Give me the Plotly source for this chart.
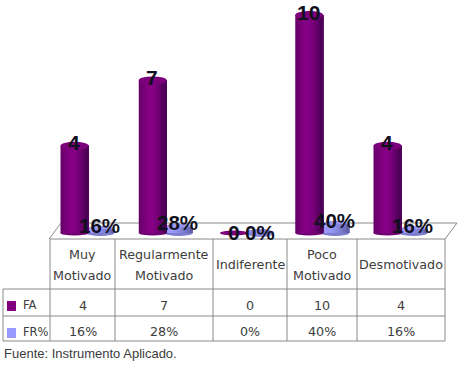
import plotly.graph_objects as go

categories = [["Muy", "Motivado"], ["Regularmente", "Motivado"], ["Indiferente"], ["Poco", "Motivado"], ["Desmotivado"]]
fa_values = [4, 7, 0, 10, 4]
fr_values = [16, 28, 0, 40, 16]
fa_labels = ["4", "7", "0", "10", "4"]
fr_labels = ["16%", "28%", "0%", "40%", "16%"]

W, H = 460, 366
STEP, UNIT, X0, Y0 = 78.25, 21.8, 74.5, 233.0
FA_SHADES = ["#6a006c", "#750076", "#7f007f", "#860086", "#840084", "#7a007b", "#6c0070", "#5a0062", "#4a0054"]
FR_SHADES = ["#8f8fee", "#9999ff", "#9999fb", "#9494f2", "#8c8ce6", "#8383d8", "#7878ca", "#6d6dba", "#6262aa"]
BAR_W = 28 / STEP
FR_OFF = 26 / STEP
fr_units = [v / 100 for v in fr_values]
positions = list(range(len(categories)))

fig = go.Figure()
shapes, ann = [], []


def px(x):
    return x / W


def py(y):
    return 1 - y / H


def line(x0, y0, x1, y1):
    shapes.append(dict(type="line", xref="paper", yref="paper", x0=px(x0), y0=py(y0), x1=px(x1), y1=py(y1),
                       line=dict(color="#8a8a8a", width=1), layer="below"))


def ellipse(cx, val, w, hpx, color, layer):
    dy = hpx / UNIT
    shapes.append(dict(type="circle", xref="x", yref="y", x0=cx - w / 2, x1=cx + w / 2, y0=val - dy, y1=val + dy,
                       fillcolor=color, line=dict(width=0), layer=layer))


def cylinders(values, off, shades):
    # each slice runs to the right edge, so the next one overlaps it without a seam
    n = len(shades)
    for k, c in enumerate(shades):
        fig.add_trace(go.Bar(x=[p + off for p in positions], y=values, width=BAR_W * (n - k) / n,
                             offset=-BAR_W / 2 + k * BAR_W / n, marker=dict(color=c, line=dict(width=0)),
                             showlegend=False, hoverinfo="skip"))


# floor and table
line(49, 239, 61, 223)
line(61, 223, 457, 223)
line(457, 223, 445, 239)
cols = [50, 115, 213, 287, 357, 445]
for y in (239, 289, 316, 341):
    line(50 if y == 239 else 3, y, 445, y)
for x in cols:
    line(x, 239, x, 341)
line(3, 289, 3, 341)

# cylinders
cylinders(fr_units, FR_OFF, FR_SHADES)
cylinders(fa_values, 0, FA_SHADES)
for p, fa, fr in zip(positions, fa_values, fr_units):
    if fr == 0:
        ellipse(p + FR_OFF + 3 / STEP, fr, BAR_W, 4, "#8a8ae6", "above")
    else:
        ellipse(p + FR_OFF, 0, BAR_W, 3, "#7d7dd0", "below")
        ellipse(p + FR_OFF, fr, BAR_W, 3.5, "#9a9af2", "below")
    if fa == 0:
        ellipse(p + 3 / STEP, fa, BAR_W, 2.5, "#7c007c", "above")
    else:
        ellipse(p, 0, BAR_W, 2.5, "#700072", "below")
        ellipse(p, fa, BAR_W, 4, "#7c007c", "above")

TXT = "DejaVu Sans"
LBL = "Liberation Sans"


def label(x, val, text, shift, xshift, size):
    ann.append(dict(x=x, y=val, xref="x", yref="y", text=text, showarrow=False, yanchor="middle", xanchor="center",
                    yshift=shift, xshift=xshift, font=dict(family=LBL, size=size, color="#10101e", weight="bold")))


for p, v, t in zip(positions, fa_values, fa_labels):
    label(p, v, t, 3 if v else 1, -1 if v else 3, 21)
for p, v, t in zip(positions, fr_units, fr_labels):
    label(p + FR_OFF, v, t, 4 if v else 1, -1 if v else 3, 20.5)


def cell(x, y, text, size=12.7, anchor="center", family=TXT, color="#3c3c3c"):
    ann.append(dict(x=px(x), y=py(y), xref="paper", yref="paper", text=text, showarrow=False, xanchor=anchor,
                    yanchor="middle", font=dict(family=family, size=size, color=color)))


for i, c in enumerate(categories):
    mid = (cols[i] + cols[i + 1]) / 2
    if len(c) == 2:
        cell(mid, 254, c[0])
        cell(mid, 275, c[1])
    else:
        cell(mid, 264, c[0])
    cell(mid, 305, fa_labels[i])
    cell(mid, 331, fr_labels[i])

for y, name, color in ((306, "FA", "#800080"), (333, "FR%", "#9999ff")):
    shapes.append(dict(type="rect", xref="paper", yref="paper", x0=px(7), x1=px(16), y0=py(y - 5), y1=py(y + 5),
                       fillcolor=color, line=dict(width=0)))
    cell(21, y - 1, name, size=11.5, anchor="left")
cell(2, 353, "Fuente: Instrumento Aplicado.", size=13, anchor="left", family="Liberation Sans")

fig.update_layout(
    width=W, height=H, margin=dict(l=0, r=0, t=0, b=0), paper_bgcolor="white", plot_bgcolor="rgba(0,0,0,0)",
    barmode="overlay", shapes=shapes, annotations=ann, showlegend=False,
    xaxis=dict(range=[-X0 / STEP, (W - X0) / STEP], visible=False, fixedrange=True),
    yaxis=dict(range=[-(H - Y0) / UNIT, Y0 / UNIT], visible=False, fixedrange=True),
)
fig.write_html("out.html", post_script="document.body.style.margin='0';document.body.style.overflow='hidden';",
               config=dict(displayModeBar=False))
